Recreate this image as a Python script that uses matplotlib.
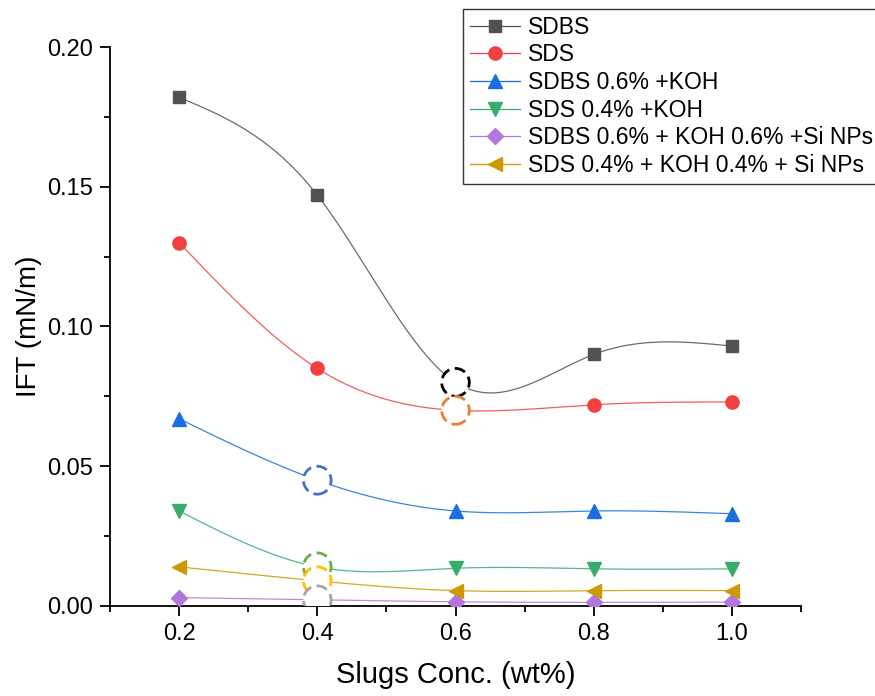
import numpy as np
import matplotlib
matplotlib.use("Agg")
import matplotlib.pyplot as plt
from matplotlib.patches import Ellipse
from matplotlib.ticker import MultipleLocator

plt.rcParams['font.family'] = ['Liberation Sans', 'DejaVu Sans']

conc = [0.2, 0.4, 0.6, 0.8, 1.0]

labels = ["SDBS", "SDS", "SDBS 0.6% +KOH", "SDS 0.4% +KOH",
          "SDBS 0.6% + KOH 0.6% +Si NPs", "SDS 0.4% + KOH 0.4% + Si NPs"]
sdbs = [0.182, 0.147, 0.080, 0.090, 0.093]
sds = [0.130, 0.085, 0.070, 0.072, 0.073]
sdbs_koh = [0.067, 0.045, 0.034, 0.034, 0.033]
sds_koh = [0.034, 0.014, 0.0135, 0.0133, 0.0133]
sdbs_koh_si = [0.003, 0.0022, 0.0015, 0.0013, 0.0014]
sds_koh_si = [0.014, 0.009, 0.0055, 0.0055, 0.0055]
series = [sdbs, sds, sdbs_koh, sds_koh, sdbs_koh_si, sds_koh_si]

colors = ['#515151', '#F14040', '#1A6FDF', '#37AD6B', '#B177DE', '#CC9900']
markers = ['s', 'o', '^', 'v', 'D', '<']
msizes = [8.5, 9.5, 10, 10, 8, 10]
# index of the point marked by a dashed circle (marker hidden there)
circled = [2, 2, 1, 1, 1, 1]
circle_colors = ['#000000', '#ED7D31', '#4472C4', '#70AD47', '#A5A5A5', '#FFC000']


def natural_spline(x, y, xs):
    x = np.asarray(x, float)
    y = np.asarray(y, float)
    n = len(x)
    h = np.diff(x)
    A = np.zeros((n, n))
    r = np.zeros(n)
    A[0, 0] = A[-1, -1] = 1
    for i in range(1, n - 1):
        A[i, i - 1] = h[i - 1]
        A[i, i] = 2 * (h[i - 1] + h[i])
        A[i, i + 1] = h[i]
        r[i] = 3 * ((y[i + 1] - y[i]) / h[i] - (y[i] - y[i - 1]) / h[i - 1])
    c = np.linalg.solve(A, r)
    b = (y[1:] - y[:-1]) / h - h * (2 * c[:-1] + c[1:]) / 3
    d = (c[1:] - c[:-1]) / (3 * h)
    idx = np.clip(np.searchsorted(x, xs) - 1, 0, n - 2)
    dx = xs - x[idx]
    return y[idx] + b[idx] * dx + c[idx] * dx ** 2 + d[idx] * dx ** 3


fig = plt.figure(figsize=(8.75, 6.96), dpi=100)
ax = fig.add_axes([110 / 875, 1 - 606 / 696, 691 / 875, 559 / 696])

xs = np.linspace(conc[0], conc[-1], 400)
handles = []
for vals, col, mk, ms, ci, lab in zip(series, colors, markers, msizes, circled, labels):
    ax.plot(xs, natural_spline(conc, vals, xs), color=col, lw=0.9, alpha=0.85, zorder=2)
    keep = [i for i in range(len(conc)) if i != ci]
    ax.plot([conc[i] for i in keep], [vals[i] for i in keep], linestyle='none',
            marker=mk, ms=ms, color=col, mec=col, zorder=3)
    h, = ax.plot([], [], color=col, lw=0.9, marker=mk, ms=ms, label=lab)
    handles.append(h)

# dashed highlight circles (white filled, drawn on top)
circle_order = [0, 1, 2, 3, 5, 4]
for k in circle_order:
    vals = series[k]
    ci = circled[k]
    e = Ellipse((conc[ci], vals[ci]), width=0.04, height=0.0100,
                facecolor='white', edgecolor=circle_colors[k], lw=2,
                linestyle=(0, (4, 2)), zorder=4)
    ax.add_patch(e)

ax.set_xlim(0.1, 1.1)
ax.set_ylim(0, 0.2)
ax.xaxis.set_minor_locator(MultipleLocator(0.1))
ax.yaxis.set_major_locator(MultipleLocator(0.05))
ax.yaxis.set_minor_locator(MultipleLocator(0.025))
ax.set_xticks([0.2, 0.4, 0.6, 0.8, 1.0])
ax.set_xticklabels(['0.2', '0.4', '0.6', '0.8', '1.0'])
ax.yaxis.set_major_formatter(plt.FuncFormatter(lambda v, p: f"{v:.2f}"))
for s in ['top', 'right']:
    ax.spines[s].set_visible(False)
for s in ['left', 'bottom']:
    ax.spines[s].set_linewidth(1.3)
ax.tick_params(which='major', direction='out', length=7, width=1.3, labelsize=17, pad=5)
ax.tick_params(which='minor', direction='out', length=4, width=1.3)
ax.set_xlabel("Slugs Conc. (wt%)", fontsize=21, labelpad=12)
ax.set_ylabel("IFT (mN/m)", fontsize=20, labelpad=4)

leg = fig.legend(handles=handles, loc='upper left', bbox_to_anchor=(463 / 875, 1 - 9 / 696),
                 fontsize=16.5, frameon=True, fancybox=False, handlelength=2.2,
                 labelspacing=0.2, borderpad=0.3, handletextpad=0.35, borderaxespad=0)
leg.get_frame().set_edgecolor('black')
leg.get_frame().set_linewidth(1.0)

fig.savefig("out.png", dpi=100)
